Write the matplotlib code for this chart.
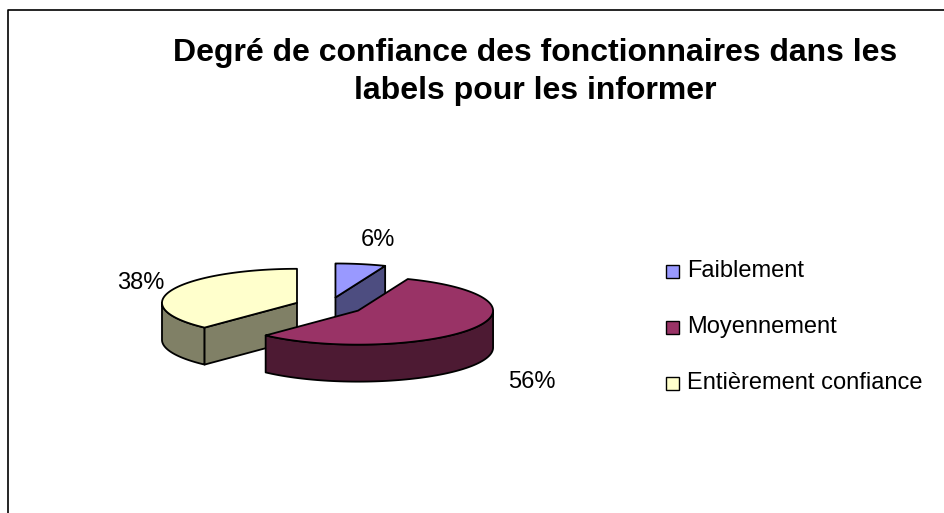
import numpy as np
import matplotlib.pyplot as plt
from matplotlib.patches import Polygon, Rectangle
from matplotlib.lines import Line2D

plt.rcParams['font.family'] = ['Liberation Sans', 'DejaVu Sans']

# données
categories = ['Faiblement', 'Moyennement', 'Entièrement confiance']
values = [6, 56, 38]
top_colors = ['#9999FF', '#993366', '#FFFFCC']
side_colors = ['#4D4D80', '#4D1A33', '#808066']
title = 'Degré de confiance des fonctionnaires dans les\nlabels pour les informer'

W, H = 944, 513
fig = plt.figure(figsize=(W / 100, H / 100), dpi=100)
ax = fig.add_axes([0, 0, 1, 1])
ax.set_xlim(0, W)
ax.set_ylim(H, 0)
ax.axis('off')

# camembert 3D : centre, demi-axes de l'ellipse, épaisseur, éclatement
cx, cy = 329, 306
a, b = 135, 34
depth = 37
explode = 0.255
lw = 1.3

# décalage des étiquettes % (pixels) par rapport au bord de la part
label_off = [(17, -24), (60, 16), (-31, -7)]


def rim(t, ox, oy, dz=0.0):
    t = np.radians(t)
    return np.column_stack([ox + a * np.sin(t), oy - b * np.cos(t) + dz])


fracs = np.array(values) / sum(values)
ends = np.cumsum(fracs) * 360
starts = ends - fracs * 360
mids = (starts + ends) / 2

# ordre de tracé : de l'arrière vers l'avant
order = np.argsort(-np.cos(np.radians(mids)))

for i in order:
    t0, t1, tm = starts[i], ends[i], mids[i]
    ox = cx + explode * a * np.sin(np.radians(tm))
    oy = cy - explode * b * np.cos(np.radians(tm))
    apex = np.array([[ox, oy]])
    side = dict(facecolor=side_colors[i], edgecolor='black', lw=lw, joinstyle='round')

    # paroi extérieure visible
    lo, hi = max(t0, 90), min(t1, 270)
    if hi > lo:
        t = np.linspace(lo, hi, 80)
        pts = np.vstack([rim(t, ox, oy), rim(t[::-1], ox, oy, depth)])
        ax.add_patch(Polygon(pts, closed=True, **side))

    # faces de coupe
    for tc, vis in ((t0, np.sin(np.radians(t0)) < -1e-6), (t1, np.sin(np.radians(t1)) > 1e-6)):
        if vis:
            r = rim([tc], ox, oy)
            pts = np.vstack([apex, r, r + [0, depth], apex + [0, depth]])
            ax.add_patch(Polygon(pts, closed=True, **side))

    # dessus
    t = np.linspace(t0, t1, 120)
    pts = np.vstack([apex, rim(t, ox, oy)])
    ax.add_patch(Polygon(pts, closed=True, facecolor=top_colors[i],
                         edgecolor='black', lw=lw, joinstyle='round'))

    # étiquette %
    dz = depth if np.cos(np.radians(tm)) < 0 else 0
    lx, ly = rim([tm], ox, oy, dz)[0] + label_off[i]
    ax.text(lx, ly, f'{values[i]}%', ha='center', va='center', fontsize=17)

# titre
ax.text(535, 72, title, ha='center', va='center', fontsize=23,
        fontweight='bold', linespacing=1.35)

# légende
for k, (name, col) in enumerate(zip(categories, top_colors)):
    y = 271 + 56 * k
    ax.add_patch(Rectangle((666, y - 6.5), 13, 13, facecolor=col,
                           edgecolor='black', lw=1))
    ax.text(687, y, name, ha='left', va='center', fontsize=17)

# cadre
ax.add_line(Line2D([8, 8, W], [H, 9.5, 9.5], color='black', lw=1.2))

fig.savefig('out.png', dpi=100)
